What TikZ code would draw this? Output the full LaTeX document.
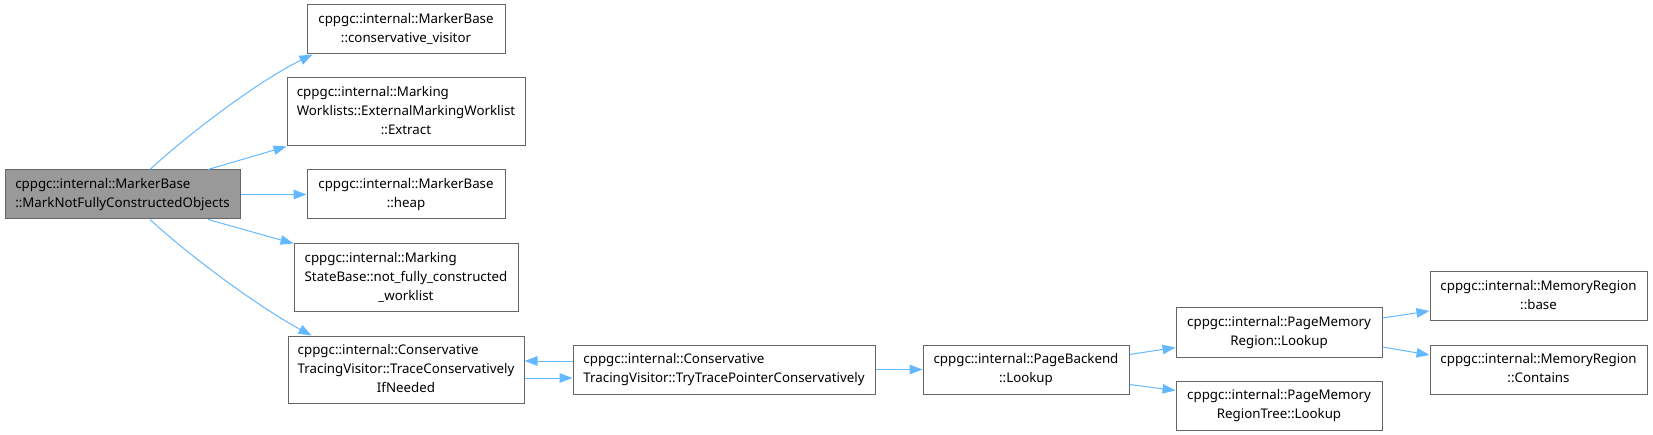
\documentclass[tikz,border=0pt]{standalone}
\usepackage{fontspec}
\setmainfont{Noto Sans}
\usetikzlibrary{arrows.meta}
\definecolor{edgeblue}{HTML}{63B8FF}
\tikzset{>={Triangle[length=13pt,width=9.5pt]}}
\tikzset{
	fn/.style={draw=black!60, line width=1pt, fill=white, inner sep=0pt, font=\fontsize{13.3}{19}\selectfont},
	fnmain/.style={fn, fill=black!40},
	call/.style={->, draw=edgeblue, line width=1pt},
}
\newcommand{\fnname}[2]{\begin{tabular}{@{}l@{}}#1\\\multicolumn{1}{@{}c@{}}{#2}\end{tabular}}

\begin{document}
\begin{tikzpicture}[x=1pt,y=-1pt]
		\useasboundingbox (0,0) rectangle (1653,435);
		\node[fnmain, minimum width=235pt, minimum height=49pt] (main) at (122.5,194.5) {\fnname{cppgc::internal::MarkerBase}{::MarkNotFullyConstructedObjects}};
		\node[fn, minimum width=198pt, minimum height=49pt] (cv) at (406,29.5) {\fnname{cppgc::internal::MarkerBase}{::conservative\_visitor}};
		\node[fn, minimum width=238pt, minimum height=68pt] (ext) at (406,112) {\fnname{cppgc::internal::Marking\\Worklists::ExternalMarkingWorklist}{::Extract}};
		\node[fn, minimum width=198pt, minimum height=49pt] (heap) at (406,194.5) {\fnname{cppgc::internal::MarkerBase}{::heap}};
		\node[fn, minimum width=224pt, minimum height=68pt] (nfc) at (406,278) {\fnname{cppgc::internal::Marking\\StateBase::not\_fully\_constructed}{\_worklist}};
		\node[fn, minimum width=236pt, minimum height=67pt] (trace) at (406,369.5) {\fnname{cppgc::internal::Conservative\\TracingVisitor::TraceConservatively}{IfNeeded}};
		\node[fn, minimum width=302pt, minimum height=49pt] (try) at (724,369.5) {\fnname{cppgc::internal::Conservative}{TracingVisitor::TryTracePointerConservatively}};
		\node[fn, minimum width=206pt, minimum height=49pt] (pb) at (1026,369.5) {\fnname{cppgc::internal::PageBackend}{::Lookup}};
		\node[fn, minimum width=206pt, minimum height=49pt] (pmr) at (1279,332.5) {\fnname{cppgc::internal::PageMemory}{Region::Lookup}};
		\node[fn, minimum width=206pt, minimum height=49pt] (prt) at (1279,405.5) {\fnname{cppgc::internal::PageMemory}{RegionTree::Lookup}};
		\node[fn, minimum width=217pt, minimum height=49pt] (base) at (1538.5,296.5) {\fnname{cppgc::internal::MemoryRegion}{::base}};
		\node[fn, minimum width=217pt, minimum height=49pt] (cont) at (1538.5,369.5) {\fnname{cppgc::internal::MemoryRegion}{::Contains}};
		% calls out of main
		\draw[call] ([xshift=27.5pt]main.north) .. controls +(40,-37) and +(-53,26) .. ([xshift=6pt]cv.south west);
		\draw[call] ([xshift=27.5pt]main.south) .. controls +(40,37) and +(-52,-28) .. ([xshift=24pt]trace.north west);
		\draw[call] ([xshift=85.5pt]main.north) -- (ext.south west);
		\draw[call] ([xshift=85.5pt]main.south) -- (nfc.north west);
		\foreach \s/\t in {main.east/heap.west, try.east/pb.west}
			\draw[call] (\s) -- (\t);
		\draw[call] ([yshift=8.5pt]try.west) -- ([yshift=8.5pt]trace.east);
		\draw[call] ([yshift=-8.5pt]trace.east) -- ([yshift=-8.5pt]try.west);
		\draw[call] ([yshift=15pt]pb.east) -- ([yshift=-15pt]pmr.west);
		\draw[call] ([yshift=-15pt]pb.east) -- ([yshift=15pt]prt.west);
		\draw[call] ([yshift=14.5pt]pmr.east) -- ([yshift=-14.5pt]base.west);
		\draw[call] ([yshift=-14.5pt]pmr.east) -- ([yshift=14.5pt]cont.west);
	\end{tikzpicture}
\end{document}
